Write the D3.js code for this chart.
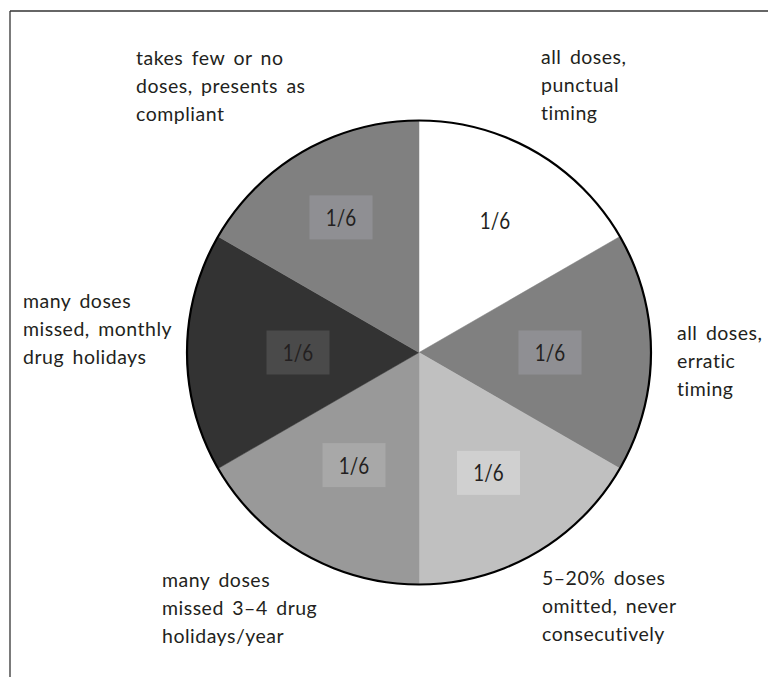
<!DOCTYPE html>
<html>
<head>
<meta charset="utf-8">
<script src="https://cdn.jsdelivr.net/npm/d3@7"></script>
<style>
  html, body { margin: 0; padding: 0; background: #fff; }
  svg { display: block; }
  text { font-family: Lato, "Open Sans", sans-serif; fill: #231f20; }
</style>
</head>
<body>
<script>
// ---- data ----
const categories = [
  ["all doses,", "punctual", "timing"],
  ["all doses,", "erratic", "timing"],
  ["5\u201320% doses", "omitted, never", "consecutively"],
  ["many doses", "missed 3\u20134 drug", "holidays/year"],
  ["many doses", "missed, monthly", "drug holidays"],
  ["takes few or no", "doses, presents as", "compliant"]
];
const values = [1, 1, 1, 1, 1, 1];
const valueLabels = ["1/6", "1/6", "1/6", "1/6", "1/6", "1/6"];

// ---- styles / layout ----
const sliceColors = ["#ffffff", "#808080", "#c0c0c0", "#999999", "#333333", "#808080"];
const boxColors   = [null, "#8f8f93", "#d0d0d0", "#a8a8a8", "#4a4a4a", "#8f8f93"];
const labelRadii  = [152, 131, 139, 130, 121, 156];
const labelAnchors = [[541, 64], [677, 340], [542, 585], [162, 587], [23, 308], [136, 65]];

const W = 768, H = 677;
const cx = 419, cy = 352.5, R = 232;

const svg = d3.select("body").append("svg").attr("width", W).attr("height", H);

// frame
svg.append("line").attr("x1", 10).attr("y1", 11).attr("x2", W).attr("y2", 11)
  .attr("stroke", "#333").attr("stroke-width", 1.3);
svg.append("line").attr("x1", 10).attr("y1", 11).attr("x2", 10).attr("y2", H)
  .attr("stroke", "#333").attr("stroke-width", 1.3);

const pie = d3.pie().sort(null).value(d => d);
const arcs = pie(values);
const arc = d3.arc().innerRadius(0).outerRadius(R);

const g = svg.append("g").attr("transform", `translate(${cx},${cy})`);

g.selectAll("path.slice").data(arcs).join("path")
  .attr("class", "slice")
  .attr("d", arc)
  .attr("fill", (d, i) => sliceColors[i])
  .attr("stroke", (d, i) => sliceColors[i])
  .attr("stroke-width", 0.5);

g.append("circle").attr("r", R).attr("fill", "none")
  .attr("stroke", "#000").attr("stroke-width", 2.2);

const lab = g.selectAll("g.lab").data(arcs).join("g")
  .attr("class", "lab")
  .attr("transform", (d, i) => {
    const a = d3.arc().innerRadius(labelRadii[i]).outerRadius(labelRadii[i]);
    return `translate(${a.centroid(d)})`;
  });

lab.each(function(d, i) {
  const sel = d3.select(this);
  if (boxColors[i]) {
    sel.append("rect")
      .attr("x", -31.5).attr("y", -22).attr("width", 63).attr("height", 44)
      .attr("fill", boxColors[i]);
  }
  sel.append("text")
    .attr("text-anchor", "middle")
    .attr("transform", "scale(0.8,1)")
    .attr("dy", "0.36em")
    .attr("font-size", 23.5)
    .text(valueLabels[i]);
});

// category labels
categories.forEach((lines, i) => {
  const t = svg.append("text")
    .attr("x", labelAnchors[i][0]).attr("y", labelAnchors[i][1])
    .attr("font-size", 19.5)
    .attr("letter-spacing", 0.5)
    .attr("word-spacing", 3);
  lines.forEach((ln, j) => {
    t.append("tspan").attr("x", labelAnchors[i][0]).attr("dy", j === 0 ? 0 : 27.8).text(ln);
  });
});
</script>
</body>
</html>
